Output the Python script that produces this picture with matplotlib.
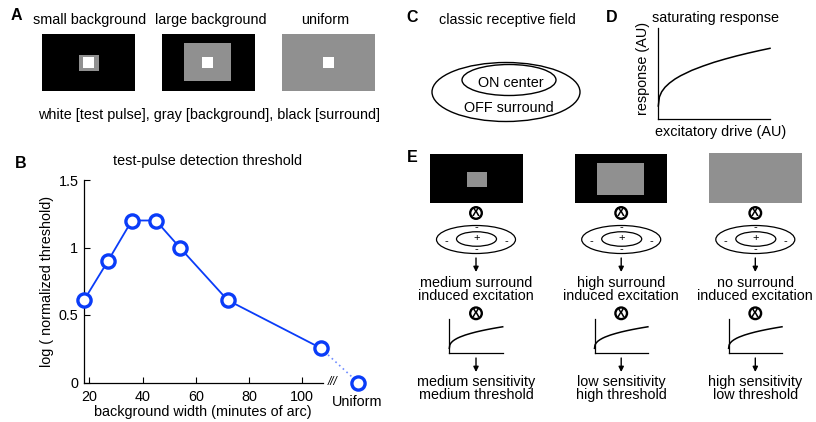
import matplotlib
matplotlib.use('Agg')
import matplotlib.pyplot as plt
from matplotlib.patches import Rectangle, Ellipse, Circle, FancyArrowPatch

plt.rcParams['font.family'] = ['Liberation Sans', 'DejaVu Sans']

W, H = 816, 422
FS = 10.4
GRAY = '#909090'
BLUE = '#0a3cf8'

# ---------------- data ----------------
# Panel B
bg_width = [18, 27, 36, 45, 54, 72, 107]
log_thresh = [0.61, 0.90, 1.20, 1.20, 1.00, 0.61, 0.255]
uniform_pos = 121
uniform_val = 0.0
xticks_b = [20, 40, 60, 80, 100]
yticks_b = [0, 0.5, 1, 1.5]
ytick_labels_b = ['0', '0.5', '1', '1.5']

# Saturating response (schematic)
drive = [0, 0.01, 0.03, 0.06, 0.1, 0.15, 0.2, 0.3, 0.4, 0.5, 0.6, 0.7, 0.8, 0.9, 1.0]
response = [0.146, 0.246, 0.302, 0.352, 0.398, 0.443, 0.479, 0.538, 0.585, 0.627,
            0.663, 0.696, 0.726, 0.754, 0.780]

# Text
a_titles = ['small background', 'large background', 'uniform']
a_caption = 'white [test pulse], gray [background], black [surround]'
e_mid1 = ['medium surround', 'high surround', 'no surround']
e_mid2 = ['induced excitation', 'induced excitation', 'induced excitation']
e_bot1 = ['medium sensitivity', 'low sensitivity', 'high sensitivity']
e_bot2 = ['medium threshold', 'high threshold', 'low threshold']

fig = plt.figure(figsize=(W / 100, H / 100), dpi=100)
ov = fig.add_axes([0, 0, 1, 1])
ov.set_xlim(0, W)
ov.set_ylim(H, 0)
ov.axis('off')


def T(x, y, s, **kw):
    kw.setdefault('fontsize', FS)
    kw.setdefault('ha', 'center')
    kw.setdefault('va', 'center')
    ov.text(x, y, s, **kw)


def rect(x0, x1, y0, y1, color):
    ov.add_patch(Rectangle((x0, y0), x1 - x0, y1 - y0, facecolor=color, edgecolor='none'))


LET = dict(fontweight='bold', fontsize=11.5)

# ---------------- Panel A ----------------
T(16, 15, 'A', **LET)
for cx, s in zip([90, 211, 325], a_titles):
    T(cx, 20, s)
rect(41.7, 135, 34, 90.7, 'black')
rect(79, 99.3, 55, 70.7, GRAY)
rect(82.7, 94.3, 57.3, 67.7, 'white')
rect(161.7, 255, 34, 90.7, 'black')
rect(184, 230.7, 42.7, 81, GRAY)
rect(202, 212.7, 57.3, 67.7, 'white')
rect(281.7, 375, 34, 90.7, GRAY)
rect(322.7, 334, 57.3, 67.7, 'white')
T(208.8, 115, a_caption)

# ---------------- Panel C ----------------
T(412, 17, 'C', **LET)
T(507, 20, 'classic receptive field')
ov.add_patch(Ellipse((506, 92), 148, 59, fill=False, lw=1.0, ec='black'))
ov.add_patch(Ellipse((509, 80), 94, 31, fill=False, lw=1.0, ec='black'))
T(511, 83, 'ON center')
T(508.5, 108.5, 'OFF surround')

# ---------------- Panel D ----------------
T(612, 17, 'D', **LET)
T(716, 18.3, 'saturating response')
T(643.3, 68.3, 'response (AU)', rotation=90)
T(720.5, 131.7, 'excitatory drive (AU)')


def small_axes(x0, x1, ytop, ybot):
    ax = fig.add_axes([x0 / W, (H - ybot) / H, (x1 - x0) / W, (ybot - ytop) / H])
    ax.set_xlim(0, 1)
    ax.set_ylim(0, 1)
    ax.set_xticks([])
    ax.set_yticks([])
    ax.patch.set_visible(False)
    for sp in ['top', 'right']:
        ax.spines[sp].set_visible(False)
    for sp in ['left', 'bottom']:
        ax.spines[sp].set_linewidth(0.9)
    ax.plot(drive, response, color='black', lw=1.1, clip_on=False)
    return ax


small_axes(658.3, 770, 28.3, 119.3)

# ---------------- Panel E ----------------
T(412, 157, 'E', **LET)
cols = [476, 621.2, 755.3]
rect(430, 522.7, 154, 203.3, 'black')
rect(466.7, 487.3, 172.3, 186.7, GRAY)
rect(575, 667.3, 154, 203.3, 'black')
rect(597.3, 644, 163.3, 195, GRAY)
rect(709, 801.7, 153.3, 203.3, GRAY)


def otimes(cx, cy):
    ov.add_patch(Circle((cx, cy), 5.8, fill=False, lw=1.7, ec='black'))
    ov.text(cx, cy + 0.4, 'X', fontsize=8.5, fontweight='bold', ha='center', va='center')


def arrow(cx, y0, y1):
    ov.add_patch(FancyArrowPatch((cx, y0), (cx, y1), arrowstyle='-|>', mutation_scale=7.5,
                                 lw=1.0, color='black', shrinkA=0, shrinkB=0))


for i, cx in enumerate(cols):
    otimes(cx, 213)
    ov.add_patch(Ellipse((cx, 239.5), 79, 28, fill=False, lw=0.9, ec='black'))
    ov.add_patch(Ellipse((cx + 0.5, 239), 40, 14.5, fill=False, lw=0.9, ec='black'))
    T(cx + 0.5, 238.5, '+', fontsize=8)
    T(cx - 30, 241, '-', fontsize=8)
    T(cx + 30, 241, '-', fontsize=8)
    T(cx, 227.5, '-', fontsize=8)
    T(cx, 249.5, '-', fontsize=8)
    arrow(cx, 258, 272)
    T(cx, 282.7, e_mid1[i])
    T(cx, 296, e_mid2[i])
    otimes(cx, 313.3)
    small_axes(cx - 26.7, cx + 26.7, 319.3, 353.3)
    arrow(cx, 358, 372)
    T(cx, 382.3, e_bot1[i])
    T(cx, 395, e_bot2[i])

# ---------------- Panel B ----------------
T(21, 163, 'B', **LET)
T(207.7, 160.7, 'test-pulse detection threshold')
bx0, bx1, btop, bbot = 84, 365, 180, 382.5
axb = fig.add_axes([bx0 / W, (H - bbot) / H, (bx1 - bx0) / W, (bbot - btop) / H])
axb.patch.set_visible(False)
axb.set_xlim(18, 18 + (bx1 - bx0) / 2.66)
axb.set_ylim(0, 1.5)
for sp in ['top', 'right']:
    axb.spines[sp].set_visible(False)
axb.spines['bottom'].set_bounds(18, 108)
axb.spines['left'].set_linewidth(0.9)
axb.spines['bottom'].set_linewidth(0.9)
axb.set_xticks(xticks_b)
axb.set_yticks(yticks_b)
axb.set_yticklabels(ytick_labels_b)
axb.tick_params(direction='in', length=4, width=0.8, labelsize=FS, pad=4)
axb.tick_params(axis='x', pad=5.5)
axb.plot([bg_width[-1], uniform_pos], [log_thresh[-1], uniform_val], linestyle=(0, (1, 2)),
         color='#6f8cff', lw=1.2, clip_on=False, zorder=2)
axb.plot(bg_width, log_thresh, '-', color=BLUE, lw=1.3, zorder=3)
axb.plot(bg_width + [uniform_pos], log_thresh + [uniform_val], 'o', ms=9.5, mfc='white',
         mec=BLUE, mew=2.4, clip_on=False, zorder=4, linestyle='none')
T(357, 402, 'Uniform')
T(333, 382, '///', fontsize=8.5, style='italic')
T(203, 411.7, 'background width (minutes of arc)')
T(47, 281, 'log ( normalized threshold)', rotation=90)

fig.savefig('out.png', dpi=100)
